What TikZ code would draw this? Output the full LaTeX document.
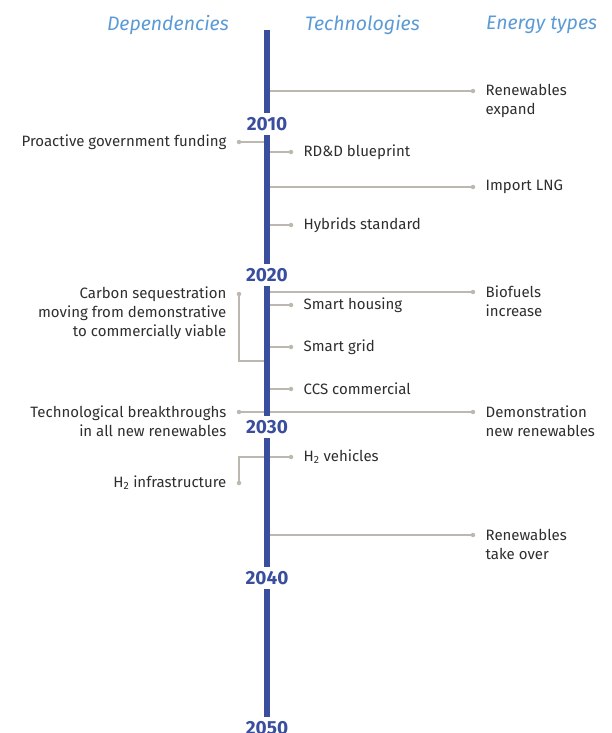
\documentclass[tikz,border=0pt]{standalone}
\usepackage{fontspec}
\setmainfont{Fira Sans}
\usetikzlibrary{positioning}
\definecolor{barblue}{HTML}{3A4E9E}
\definecolor{headblue}{HTML}{5B9BD5}
\definecolor{linkgray}{HTML}{BDB8AF}
\definecolor{txtgray}{HTML}{2E2E2E}

\begin{document}
\begin{tikzpicture}[x=1pt,y=-1pt,node distance=10pt,
    year/.style={fill=white,text=barblue,font=\fontsize{19}{19}\selectfont\bfseries,inner xsep=2pt,inner ysep=4pt},
    head/.style={text=headblue,font=\fontsize{19.5}{20}\selectfont\itshape,inner sep=0pt},
    dot/.style={circle,fill=linkgray,inner sep=0pt,minimum size=4.5pt},
    link/.style={draw=linkgray,line width=1.4pt},
    item/.style={text=txtgray,font=\fontsize{15}{19}\selectfont,inner sep=0pt,align=left},
    dep/.style={item,align=right},
    bar/.style={draw=barblue,line width=6pt}]

    \useasboundingbox (0,0) rectangle (611,733);

    % column heads
    \node[head,anchor=east] (hDep) at (229,25) {Dependencies};
    \node[head,anchor=west] (hTech) at (305,25) {Technologies};
    \node[head,anchor=west] (hEnergy) at (486,25) {Energy types};

    % time line ends and joins
    \coordinate (top) at (267,30);
    \coordinate (bot) at (267,745);
    \coordinate (cJoin) at (267,361);
    \coordinate (hJoin) at (267,457);

    % energy types
    \node[dot] (eRen) at (473,91) {};
    \node[dot] (eLng) at (473,187) {};
    \node[dot] (eBio) at (473,292) {};
    \node[dot] (eDem) at (473,412) {};
    \node[dot] (eTake) at (473,535) {};
    \node[item] (nRen) [right=of eRen, yshift=-9.5pt] {Renewables\\expand};
    \node[item] (nLng) [right=of eLng] {Import LNG};
    \node[item] (nBio) [right=of eBio, yshift=-9.5pt] {Biofuels\\increase};
    \node[item] (nDem) [right=of eDem, yshift=-9.5pt] {Demonstration\\new renewables};
    \node[item] (nTake) [right=of eTake, yshift=-9.5pt] {Renewables\\take over};

    % technologies
    \node[dot] (tRdd) at (291,152) {};
    \node[dot] (tHyb) at (291,225) {};
    \node[dot] (tHou) at (291,305) {};
    \node[dot] (tGrid) at (291,347) {};
    \node[dot] (tCcs) at (291,389) {};
    \node[dot] (tVeh) at (291,457) {};
    \node[item] (nRdd) [right=of tRdd] {RD\&D blueprint};
    \node[item] (nHyb) [right=of tHyb] {Hybrids standard};
    \node[item] (nHou) [right=of tHou] {Smart housing};
    \node[item] (nGrid) [right=of tGrid] {Smart grid};
    \node[item] (nCcs) [right=of tCcs] {CCS commercial};
    \node[item] (nVeh) [right=of tVeh] {H\textsubscript{2} vehicles};

    % dependencies
    \node[dot] (dFund) at (239,142) {};
    \node[dot] (dCarb) at (239,294) {};
    \node[dot] (dBreak) at (239,412) {};
    \node[dot] (dInfra) at (239,483) {};
    \node[dep] (nFund) [left=of dFund] {Proactive government funding};
    \node[dep] (nCarb) [left=of dCarb, yshift=-19pt] {Carbon sequestration\\moving from demonstrative\\to commercially viable};
    \node[dep] (nBreak) [left=of dBreak, yshift=-9.5pt] {Technological breakthroughs\\in all new renewables};
    \node[dep] (nInfra) [left=of dInfra] {H\textsubscript{2} infrastructure};

    \path[link]
        (eRen) edge (eRen -| top)
        (eLng) edge (eLng -| top)
        (eBio) edge (eBio -| top)
        (eDem) edge (dBreak)
        (eTake) edge (eTake -| top)
        (tRdd) edge (tRdd -| top)
        (tHyb) edge (tHyb -| top)
        (tHou) edge (tHou -| top)
        (tGrid) edge (tGrid -| top)
        (tCcs) edge (tCcs -| top)
        (tVeh) edge (hJoin)
        (dFund) edge (dFund -| top)
    ;
    \draw[link] (dCarb) |- (cJoin);
    \draw[link] (dInfra) |- (hJoin);

    % time line
    \draw[bar] (top) -- (bot);
    \node[year] (y2010) at (267,124) {2010};
    \node[year] (y2020) at (267,275) {2020};
    \node[year] (y2030) at (267,427) {2030};
    \node[year] (y2040) at (267,578) {2040};
    \node[year] (y2050) at (267,728) {2050};
\end{tikzpicture}
\end{document}
